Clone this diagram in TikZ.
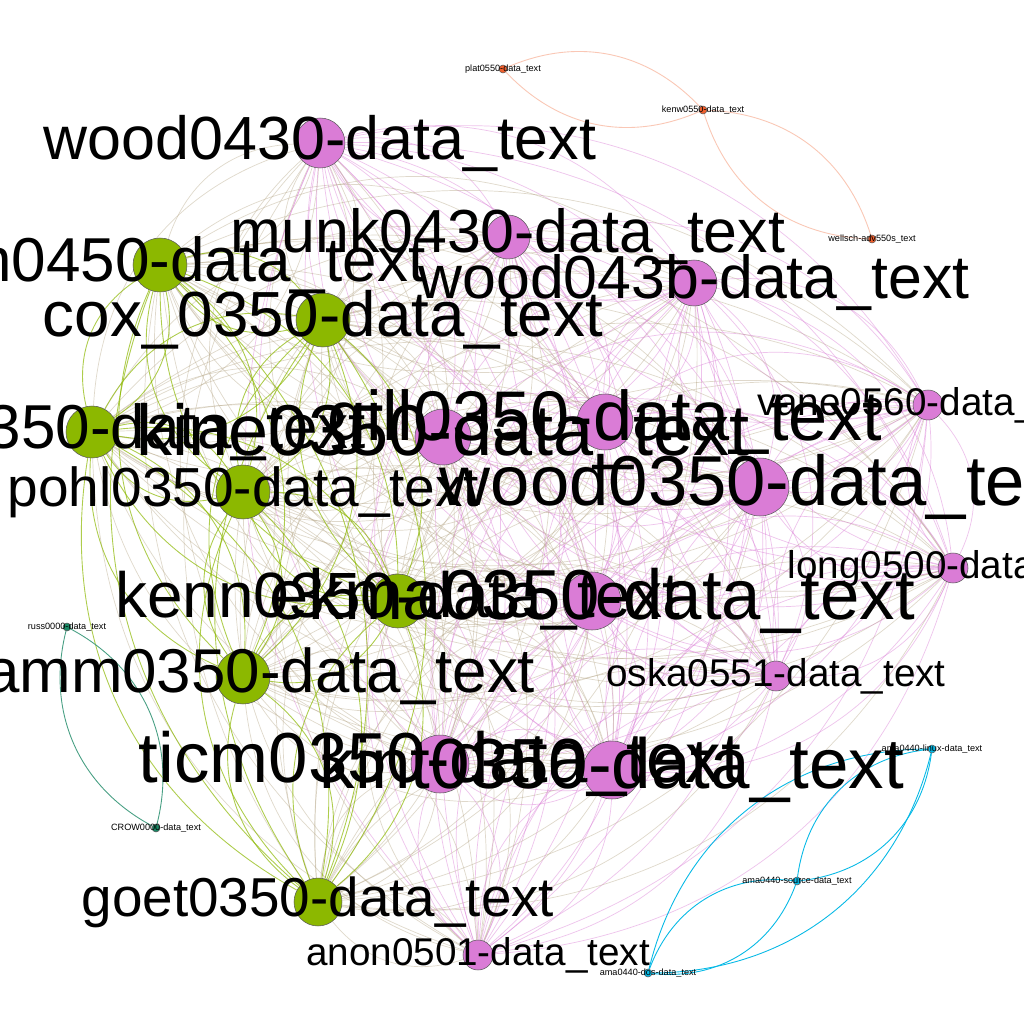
\documentclass[tikz,border=0pt]{standalone}
\usepackage{fontspec}
\setmainfont{Liberation Sans}
\usetikzlibrary{positioning}
\pgfdeclarelayer{edges}
\pgfdeclarelayer{labels}
\pgfsetlayers{edges,main,labels}

\definecolor{pinkv}{RGB}{218,124,214}
\definecolor{greenv}{RGB}{140,184,0}
\definecolor{tanv}{RGB}{185,170,140}
\definecolor{orangev}{RGB}{240,95,45}
\definecolor{tealv}{RGB}{25,135,100}
\definecolor{cyanv}{RGB}{5,185,230}

\tikzstyle{vertex}=[circle, draw=black!65, line width=0.3pt, inner sep=0pt]
\tikzstyle{tag}=[inner sep=0pt, text=black]
\tikzstyle{pinkedge}=[draw=pinkv, line width=0.4pt, draw opacity=0.45]
\tikzstyle{greenedge}=[draw=greenv, line width=0.5pt, draw opacity=0.7]
\tikzstyle{mixedge}=[draw=tanv, line width=0.4pt, draw opacity=0.45]
\tikzstyle{smalledge}=[line width=0.5pt]

\begin{document}
\begin{tikzpicture}[x=0.02cm, y=-0.02cm]
    \useasboundingbox (0,0) rectangle (1024,1024);

    % 大きいクラスタ (ピンク)
    \node[vertex, fill=pinkv, minimum size=1cm]    (wood430) at (320,143) {};
    \node[vertex, fill=pinkv, minimum size=0.88cm] (munk430) at (508,237) {};
    \node[vertex, fill=pinkv, minimum size=0.92cm] (wood43b) at (694,283) {};
    \node[vertex, fill=pinkv, minimum size=1.12cm] (kine350) at (443,437) {};
    \node[vertex, fill=pinkv, minimum size=1.12cm] (gill350) at (605,422) {};
    \node[vertex, fill=pinkv, minimum size=1.16cm] (wood350) at (760,487) {};
    \node[vertex, fill=pinkv, minimum size=0.6cm]  (vane560) at (928,405) {};
    \node[vertex, fill=pinkv, minimum size=0.6cm]  (long500) at (953,568) {};
    \node[vertex, fill=pinkv, minimum size=1.16cm] (ekma350) at (592,601) {};
    \node[vertex, fill=pinkv, minimum size=0.6cm]  (oska551) at (776,676) {};
    \node[vertex, fill=pinkv, minimum size=1.16cm] (ticm350) at (440,764) {};
    \node[vertex, fill=pinkv, minimum size=1.16cm] (kint350) at (612,770) {};
    \node[vertex, fill=pinkv, minimum size=0.6cm]  (anon501) at (478,955) {};

    % 大きいクラスタ (緑)
    \node[vertex, fill=greenv, minimum size=1.08cm] (john450) at (160,265) {};
    \node[vertex, fill=greenv, minimum size=1.08cm] (cox350)  at (323,320) {};
    \node[vertex, fill=greenv, minimum size=1.04cm] (lamb350) at (92,432) {};
    \node[vertex, fill=greenv, minimum size=1.08cm] (pohl350) at (243,492) {};
    \node[vertex, fill=greenv, minimum size=1.08cm] (kenn350) at (398,601) {};
    \node[vertex, fill=greenv, minimum size=1.08cm] (gamm350) at (243,677) {};
    \node[vertex, fill=greenv, minimum size=0.96cm] (goet350) at (318,902) {};

    % 小さいクラスタ
    \node[vertex, fill=orangev, minimum size=0.16cm] (plat550) at (503,69) {};
    \node[vertex, fill=orangev, minimum size=0.16cm] (kenw550) at (703,110) {};
    \node[vertex, fill=orangev, minimum size=0.16cm] (wellsch) at (872,239) {};
    \node[vertex, fill=tealv, minimum size=0.16cm]   (russ000) at (67,627) {};
    \node[vertex, fill=tealv, minimum size=0.16cm]   (crow000) at (156,828) {};
    \node[vertex, fill=cyanv, minimum size=0.16cm]   (amalin)  at (932,749) {};
    \node[vertex, fill=cyanv, minimum size=0.16cm]   (amasrc)  at (797,881) {};
    \node[vertex, fill=cyanv, minimum size=0.16cm]   (amados)  at (648,973) {};

    % エッジの描画
    \begin{pgfonlayer}{edges}
      \fill[white] (0,0) rectangle (1024,1024);
      \foreach \a in {wood430,munk430,wood43b,kine350,gill350,wood350,vane560,long500,ekma350,oska551,ticm350,kint350,anon501}{
        \foreach \b in {wood430,munk430,wood43b,kine350,gill350,wood350,vane560,long500,ekma350,oska551,ticm350,kint350,anon501}{
          \ifx\a\b\else\draw[pinkedge] (\a) to[bend left=35] (\b);\fi
        }
        \foreach \b in {john450,cox350,lamb350,pohl350,kenn350,gamm350,goet350}{
          \draw[mixedge] (\a) to[bend left=35] (\b);
          \draw[mixedge] (\b) to[bend left=35] (\a);
        }
      }
      \foreach \a in {john450,cox350,lamb350,pohl350,kenn350,gamm350,goet350}{
        \foreach \b in {john450,cox350,lamb350,pohl350,kenn350,gamm350,goet350}{
          \ifx\a\b\else\draw[greenedge] (\a) to[bend left=35] (\b);\fi
        }
      }
      \foreach \a/\b in {plat550/kenw550,kenw550/wellsch}{
        \draw[smalledge, draw=orangev!35] (\a) to[bend left=35] (\b);
        \draw[smalledge, draw=orangev!35] (\b) to[bend left=35] (\a);
      }
      \draw[smalledge, draw=tealv!80] (russ000) to[bend left=38] (crow000);
      \draw[smalledge, draw=tealv!80] (crow000) to[bend left=38] (russ000);
      \foreach \a/\b in {amalin/amasrc,amasrc/amados,amalin/amados}{
        \draw[smalledge, draw=cyanv] (\a) to[bend left=38] (\b);
        \draw[smalledge, draw=cyanv] (\b) to[bend left=38] (\a);
      }
    \end{pgfonlayer}

    % ラベルの描画
    \begin{pgfonlayer}{labels}
      \node[tag, font=\fontsize{34.7}{36}\selectfont] (t-wood430) at (wood430) {wood0430-data\_text};
      \node[tag, font=\fontsize{34.6}{36}\selectfont] (t-munk430) at (munk430) {munk0430-data\_text};
      \node[tag, font=\fontsize{34.6}{36}\selectfont] (t-wood43b) at (wood43b) {wood043b-data\_text};
      \node[tag, font=\fontsize{35.3}{36}\selectfont] (t-john450) at (john450) {john0450-data\_text};
      \node[tag, font=\fontsize{36.3}{38}\selectfont] (t-cox350)  at (cox350)  {cox\_0350-data\_text};
      \node[tag, font=\fontsize{35.3}{36}\selectfont] (t-lamb350) at (lamb350) {lamb0350-data\_text};
      \node[tag, font=\fontsize{41}{42}\selectfont]   (t-kine350) at (kine350) {kine0350-data\_text};
      \node[tag, font=\fontsize{40}{42}\selectfont]   (t-gill350) at (gill350) {gill0350-data\_text};
      \node[tag, font=\fontsize{31.3}{32}\selectfont] (t-pohl350) at (pohl350) {pohl0350-data\_text};
      \node[tag, font=\fontsize{40.2}{42}\selectfont] (t-wood350) at (wood350) {wood0350-data\_text};
      \node[tag, font=\fontsize{22}{23}\selectfont]   (t-vane560) at (vane560) {vane0560-data\_text};
      \node[tag, font=\fontsize{22}{23}\selectfont]   (t-long500) at (long500) {long0500-data\_text};
      \node[tag, font=\fontsize{36.4}{38}\selectfont] (t-kenn350) at (kenn350) {kenn0350-data\_text};
      \node[tag, font=\fontsize{40.3}{42}\selectfont] (t-ekma350) at (ekma350) {ekma0350-data\_text};
      \node[tag, font=\fontsize{35.2}{36}\selectfont] (t-gamm350) at (gamm350) {gamm0350-data\_text};
      \node[tag, font=\fontsize{22}{23}\selectfont]   (t-oska551) at (oska551) {oska0551-data\_text};
      \node[tag, font=\fontsize{40.3}{42}\selectfont] (t-ticm350) at (ticm350) {ticm0350-data\_text};
      \node[tag, font=\fontsize{40.4}{42}\selectfont] (t-kint350) at (kint350) {kint0350-data\_text};
      \node[tag, font=\fontsize{31.2}{32}\selectfont] (t-goet350) at (goet350) {goet0350-data\_text};
      \node[tag, font=\fontsize{22}{23}\selectfont]   (t-anon501) at (anon501) {anon0501-data\_text};
      \node[tag, font=\fontsize{5.2}{6}\selectfont]   (t-plat550) at (plat550) {plat0550-data\_text};
      \node[tag, font=\fontsize{5.2}{6}\selectfont]   (t-kenw550) at (kenw550) {kenw0550-data\_text};
      \node[tag, font=\fontsize{5.2}{6}\selectfont]   (t-wellsch) at (wellsch) {wellsch-adv550s\_text};
      \node[tag, font=\fontsize{5.2}{6}\selectfont]   (t-russ000) at (russ000) {russ0000-data\_text};
      \node[tag, font=\fontsize{5.2}{6}\selectfont]   (t-crow000) at (crow000) {CROW0000-data\_text};
      \node[tag, font=\fontsize{5.2}{6}\selectfont]   (t-amalin)  at (amalin)  {ama0440-linux-data\_text};
      \node[tag, font=\fontsize{5.2}{6}\selectfont]   (t-amasrc)  at (amasrc)  {ama0440-source-data\_text};
      \node[tag, font=\fontsize{5.2}{6}\selectfont]   (t-amados)  at (amados)  {ama0440-dos-data\_text};
    \end{pgfonlayer}
\end{tikzpicture}
\end{document}
